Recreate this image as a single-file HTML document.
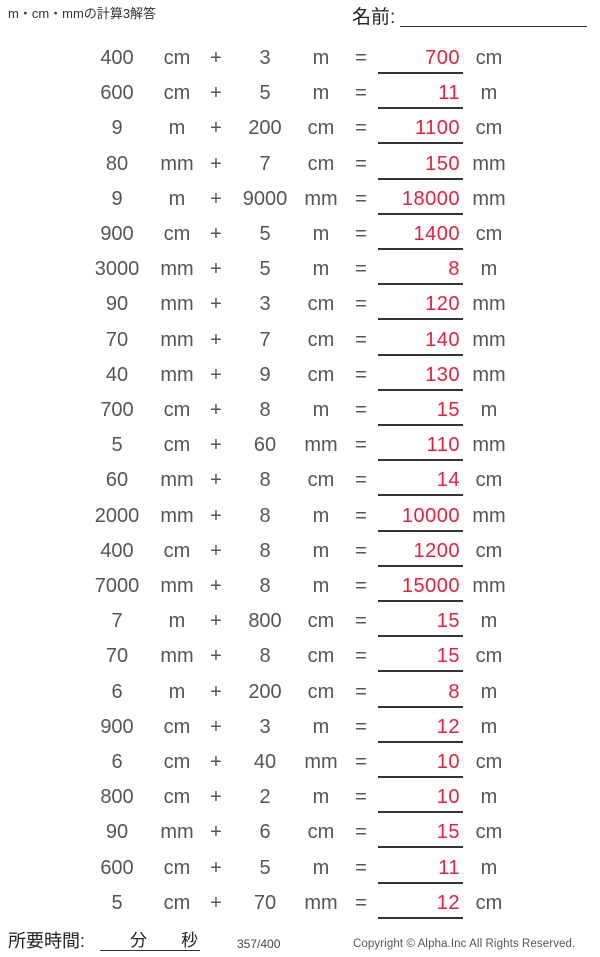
<!DOCTYPE html>
<html><head><meta charset="utf-8"><style>
body{margin:0;width:600px;height:957px;background:#fff;position:relative;overflow:hidden;font-family:"Liberation Sans","Noto Sans CJK JP",sans-serif;color:#444}
.a{position:absolute;white-space:nowrap;line-height:1}
.r{position:absolute;left:0;width:600px;height:35px;font-size:20px;color:#555}
.r span{position:absolute;top:0;transform:translateX(-50%)}
.r .ans{transform:none;right:140px;color:#e8203c;letter-spacing:0.5px}
.r .ln{position:absolute;left:378px;width:85px;top:25px;border-top:2px solid #333;transform:none}
</style></head><body>
<div class="a" style="left:8px;top:7px;font-size:13px;color:#333">m・cm・mmの計算3解答</div>
<div class="a" style="left:352px;top:8px;font-size:19px;color:#222">名前:</div>
<div class="a" style="left:400px;top:26px;width:187px;border-top:1px solid #333"></div>
<div id="rows"></div>
<div class="a" style="left:8px;top:932px;font-size:18px;color:#222">所要時間:</div>
<div class="a" style="left:130px;top:932px;font-size:17px;color:#222">分</div>
<div class="a" style="left:181px;top:932px;font-size:17px;color:#222">秒</div>
<div class="a" style="left:100px;top:950px;width:100px;border-top:1px solid #333"></div>
<div class="a" style="left:237px;top:938px;font-size:12px;color:#444">357/400</div>
<div class="a" style="left:353px;top:939px;font-size:11.5px;color:#555;letter-spacing:0.1px">Copyright © Alpha.Inc All Rights Reserved.</div>
<script>
var d=[["400","cm","3","m","700","cm"],["600","cm","5","m","11","m"],["9","m","200","cm","1100","cm"],["80","mm","7","cm","150","mm"],["9","m","9000","mm","18000","mm"],["900","cm","5","m","1400","cm"],["3000","mm","5","m","8","m"],["90","mm","3","cm","120","mm"],["70","mm","7","cm","140","mm"],["40","mm","9","cm","130","mm"],["700","cm","8","m","15","m"],["5","cm","60","mm","110","mm"],["60","mm","8","cm","14","cm"],["2000","mm","8","m","10000","mm"],["400","cm","8","m","1200","cm"],["7000","mm","8","m","15000","mm"],["7","m","800","cm","15","m"],["70","mm","8","cm","15","cm"],["6","m","200","cm","8","m"],["900","cm","3","m","12","m"],["6","cm","40","mm","10","cm"],["800","cm","2","m","10","m"],["90","mm","6","cm","15","cm"],["600","cm","5","m","11","m"],["5","cm","70","mm","12","cm"]];
var h="";
d.forEach(function(r,i){var t=47+i*35.2;
h+='<div class="r" style="top:'+t+'px"><span style="left:117px">'+r[0]+'</span><span style="left:177px">'+r[1]+'</span><span style="left:216px">+</span><span style="left:265px">'+r[2]+'</span><span style="left:321px">'+r[3]+'</span><span style="left:361px">=</span><span class="ans">'+r[4]+'</span><span style="left:489px">'+r[5]+'</span><span class="ln"></span></div>';});
document.getElementById("rows").innerHTML=h;
</script>
</body></html>
